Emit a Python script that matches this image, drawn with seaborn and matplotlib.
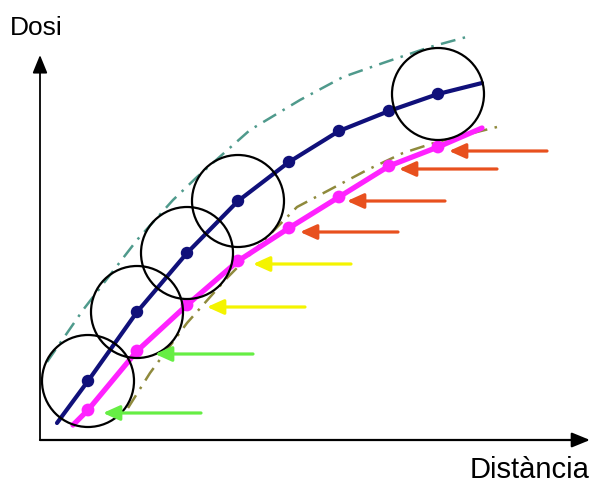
import numpy as np
import pandas as pd
import matplotlib
matplotlib.use("Agg")
import matplotlib.pyplot as plt
import seaborn as sns
from matplotlib.patches import Circle

# distance / dose values (arbitrary units)
blue_x = [1.7, 4.8, 9.7, 14.7, 19.8, 24.9, 29.9, 34.9, 39.8, 44.2]
blue_y = [1.7, 5.9, 12.8, 18.7, 23.9, 27.8, 30.9, 32.9, 34.6, 35.7]
blue_marked = [False, True, True, True, True, True, True, True, True, False]

mag_x = [3.3, 4.8, 9.7, 14.7, 19.8, 24.9, 29.9, 34.9, 39.8, 44.2]
mag_y = [1.5, 3.0, 8.9, 13.5, 17.9, 21.2, 24.3, 27.4, 29.3, 31.2]
mag_marked = [False, True, True, True, True, True, True, True, True, False]

upper_x = [0.7, 4.3, 9.7, 13.3, 15.7, 21.0, 26.0, 30.3, 34.3, 39.0, 43.0]
upper_y = [7.8, 13.0, 20.0, 24.0, 26.3, 31.0, 34.0, 36.3, 37.7, 39.3, 40.4]

lower_x = [8.8, 11.0, 14.7, 18.7, 25.7, 29.3, 32.7, 36.3, 39.7, 45.7]
lower_y = [3.2, 6.7, 11.7, 16.2, 23.3, 25.2, 27.0, 28.7, 29.8, 31.3]

# circles sit on these blue points
circle_idx = [1, 2, 3, 4, 8]
circle_r = 4.6

# arrows pointing at the magenta points
arrow_x = [6.3, 11.5, 16.7, 21.3, 26.0, 30.7, 35.9, 40.9]
arrow_y = [2.7, 8.6, 13.3, 17.6, 20.8, 23.9, 27.1, 28.9]
arrow_len = 9.8
arrow_colors = ['#66ee44', '#66ee44', '#f4f400', '#f4f400',
                '#e8501e', '#e8501e', '#e8501e', '#e8501e']

blue_df = pd.DataFrame({'x': blue_x, 'y': blue_y, 'm': blue_marked})
mag_df = pd.DataFrame({'x': mag_x, 'y': mag_y, 'm': mag_marked})

sns.set_style('white')
plt.rcParams['font.family'] = ['Liberation Sans', 'DejaVu Sans']
plt.rcParams['text.color'] = 'black'

fig = plt.figure(figsize=(5.92, 4.86), dpi=100)
ax = fig.add_axes([0, 0, 1, 1])
ax.set_xlim(-4, 55.2)
ax.set_ylim(-4.6, 44)
ax.axis('off')

# envelopes
ax.plot(upper_x, upper_y, color='#4f9a8c', lw=1.8,
        linestyle=(0, (6, 3, 1, 3)), zorder=2)
ax.plot(lower_x, lower_y, color='#8f8a3c', lw=1.8,
        linestyle=(0, (6, 3, 1, 3)), zorder=2)

# main curves
sns.lineplot(data=mag_df, x='x', y='y', color='#ff22ff', lw=3.8,
             ax=ax, zorder=4)
sns.scatterplot(data=mag_df[mag_df['m']], x='x', y='y', color='#ff22ff',
                s=85, edgecolor='none', ax=ax, zorder=5)
sns.lineplot(data=blue_df, x='x', y='y', color='#10107a', lw=3,
             ax=ax, zorder=4)
sns.scatterplot(data=blue_df[blue_df['m']], x='x', y='y', color='#10107a',
                s=80, edgecolor='none', ax=ax, zorder=5)

# circles
for i in circle_idx:
    ax.add_patch(Circle((blue_x[i], blue_y[i]), circle_r, fill=False,
                        edgecolor='black', lw=1.6, zorder=6))

# arrows
for ax_x, ax_y, c in zip(arrow_x, arrow_y, arrow_colors):
    ax.annotate('', xy=(ax_x, ax_y), xytext=(ax_x + arrow_len, ax_y),
                arrowprops=dict(arrowstyle='-|>,head_length=1.0,head_width=0.45',
                                color=c, lw=2.3, shrinkA=0, shrinkB=0),
                zorder=7)

# axes arrows
ax.annotate('', xy=(0, 38.5), xytext=(0, 0),
            arrowprops=dict(arrowstyle='-|>,head_length=1.1,head_width=0.45',
                            color='black', lw=1.3, shrinkA=0, shrinkB=0))
ax.annotate('', xy=(55, 0), xytext=(0, 0),
            arrowprops=dict(arrowstyle='-|>,head_length=1.1,head_width=0.45',
                            color='black', lw=1.6, shrinkA=0, shrinkB=0))

ax.text(-3, 40.5, 'Dosi', fontsize=19, ha='left', va='baseline')
ax.text(55, -3.8, 'Distància', fontsize=21, ha='right', va='baseline')

fig.savefig('out.png', dpi=100)
